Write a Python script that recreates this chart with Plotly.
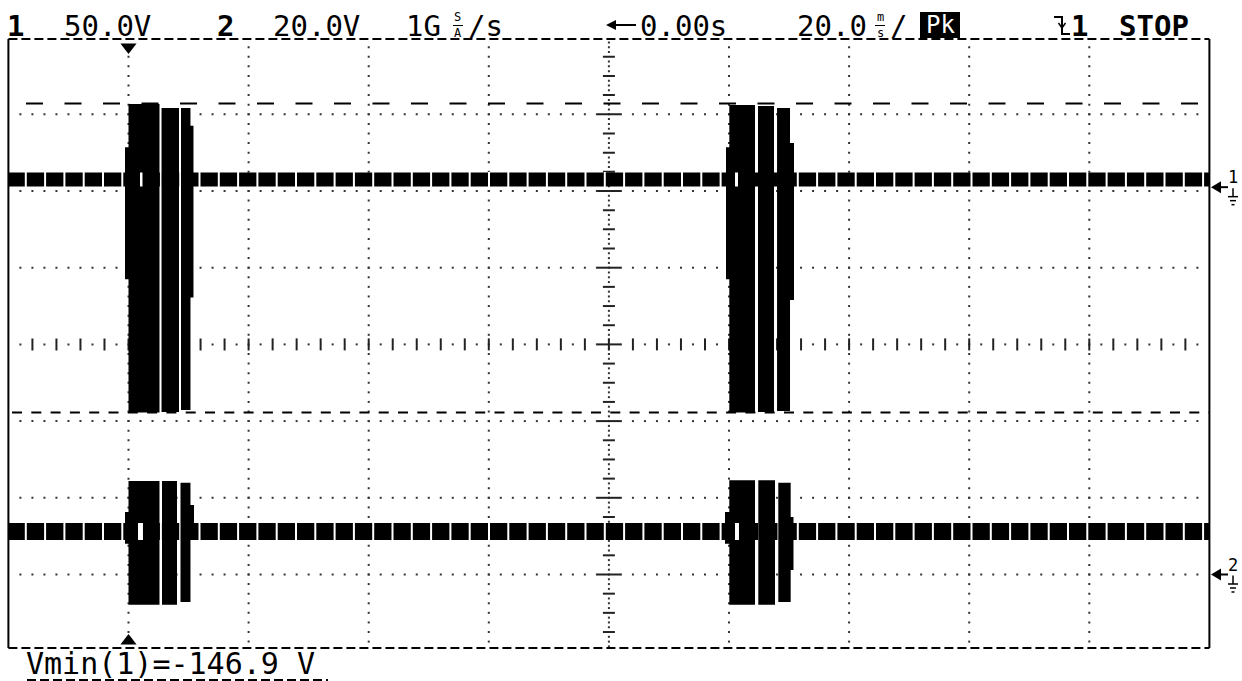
import numpy as np
import plotly.graph_objects as go

W, H = 1242, 681
MONO = "DejaVu Sans Mono"

# ---------------- scope settings ----------------
time_per_div_ms = 20.0      # 20.0 ms/div
time_left_ms = -20.0        # left edge of graticule, trigger at 0 ms
n_xdiv = 10
ch1_volts_per_div = 50.0
ch1_ground_div = 2.05
ch2_volts_per_div = 20.0
ch2_ground_div = -3.0

# idle-level envelope of each channel (V)
ch1_idle_min, ch1_idle_max = 0.5, 9.5
ch2_idle_min, ch2_idle_max = 9.0, 13.4

# burst envelopes: segment start / end (ms), min / max (V)
ch1_seg_start = [-0.58, 0.00, 5.50, 8.74, 10.32, 99.50, 100.05, 104.83, 108.00, 110.16]
ch1_seg_end = [0.00, 5.16, 8.41, 10.32, 10.82, 100.05, 104.33, 107.49, 110.16, 110.83]
ch1_seg_min = [-60.0, -146.9, -146.5, -145.3, -72.0, -60.0, -146.9, -146.5, -145.9, -73.6]
ch1_seg_max = [26.0, 54.2, 51.6, 51.6, 40.0, 26.0, 53.5, 52.9, 51.6, 28.8]

ch2_seg_start = [-0.58, 0.00, 5.58, 8.66, 10.32, 99.33, 100.05, 104.88, 108.21, 110.27]
ch2_seg_end = [0.00, 5.16, 8.08, 10.32, 10.91, 100.05, 104.33, 107.66, 110.27, 110.74]
ch2_seg_min = [8.0, -7.9, -7.9, -7.2, 9.7, 8.0, -7.9, -7.9, -7.2, 1.2]
ch2_seg_max = [16.3, 24.4, 24.4, 23.9, 18.1, 16.3, 24.6, 24.6, 23.9, 15.0]

# thin clear slits inside the bursts at the idle level (ms)
ch1_slit_start = [1.92, 101.0]
ch1_slit_end = [2.33, 101.5]
ch2_slit_start = [1.58, 101.0]
ch2_slit_end = [2.41, 101.66]

# channel-1 measurement cursors (V)
ch1_cursor_top_v = 54.5
ch1_vmin_v = -146.9
trigger_time_ms = 0.0

# ---------------- screen geometry (pixels) ----------------
GX0, GX1 = 8.4, 1209.4
FY0, FY1 = 39.0, 648.0
YC, PPD_Y = 344.4, 76.7
PPD_X = (GX1 - GX0) / n_xdiv
MS_PER_PX = time_per_div_ms / PPD_X

t_min = time_left_ms
t_max = time_left_ms + n_xdiv * time_per_div_ms
y_lo = (YC - FY1) / PPD_Y
y_hi = (YC - FY0) / PPD_Y


def X(px):
    return px / W


def Y(py):
    return 1 - py / H


def t_of_px(px):
    return t_min + (px - GX0) * MS_PER_PX


def py_of_div(d):
    return YC - d * PPD_Y


def ch1(v):
    return v / ch1_volts_per_div + ch1_ground_div


def ch2(v):
    return v / ch2_volts_per_div + ch2_ground_div


def blocks(t0, t1, lo, hi, conv):
    xs, ys = [], []
    for a, b, l, h in zip(t0, t1, lo, hi):
        dl, dh = conv(l), conv(h)
        xs += [a, b, b, a, a, None]
        ys += [dl, dl, dh, dh, dl, None]
    return xs, ys


fig = go.Figure()
DOT = dict(symbol="square", size=2, color="#333", line=dict(width=0))

# ---------------- graticule ----------------
hx, hy = [], []
for d in [-3, -2, -1, 1, 2, 3]:
    for k in range(1, 100):
        hx.append(t_min + k * time_per_div_ms / 10)
        hy.append(d)
vx, vy = [], []
centre_t = t_min + n_xdiv / 2 * time_per_div_ms
for i in range(1, n_xdiv):
    t = t_min + i * time_per_div_ms
    if abs(t - centre_t) < 1e-9:
        continue
    for k in range(1, 64):
        yy = -4 + k * 0.125
        if y_lo < yy < y_hi:
            vx.append(t)
            vy.append(yy)
fig.add_trace(go.Scatter(x=hx + vx, y=hy + vy, mode="markers", marker=DOT,
                         hoverinfo="skip", showlegend=False))

# centre axes: dots and ticks
cx, cy = [], []
for k in range(1, 100, 2):
    cx.append(t_min + k * time_per_div_ms / 10)
    cy.append(0)
for k in range(1, 128):
    yy = -4 + k * 0.0625
    if k % 4 == 0 or not (y_lo < yy < y_hi):
        continue
    cx.append(centre_t)
    cy.append(yy)
fig.add_trace(go.Scatter(x=cx, y=cy, mode="markers", marker=DOT,
                         hoverinfo="skip", showlegend=False))

tx, ty = [], []
vhalf = 6 / PPD_Y
for k in range(1, 50):
    t = t_min + k * time_per_div_ms / 5
    tx += [t, t, None]
    ty += [-vhalf, vhalf, None]
for k in range(1, 32):
    yy = -4 + k * 0.25
    if not (y_lo < yy < y_hi):
        continue
    half = (11.5 if abs(yy - round(yy)) < 1e-9 else 6) * MS_PER_PX
    tx += [centre_t - half, centre_t + half, None]
    ty += [yy, yy, None]
fig.add_trace(go.Scatter(x=tx, y=ty, mode="lines", line=dict(color="#222", width=2),
                         hoverinfo="skip", showlegend=False))

# ---------------- idle bands ----------------
for lo, hi, conv in [(ch1_idle_min, ch1_idle_max, ch1), (ch2_idle_min, ch2_idle_max, ch2)]:
    xs, ys = blocks([t_min - 1], [t_max + 1], [lo], [hi], conv)
    fig.add_trace(go.Scatter(x=xs, y=ys, mode="lines", fill="toself", fillcolor="black",
                             line=dict(width=0, color="black"), hoverinfo="skip", showlegend=False))
    mid = (conv(lo) + conv(hi)) / 2
    band_px = (conv(hi) - conv(lo)) * PPD_Y
    fig.add_trace(go.Scatter(x=[t_of_px(5.5), t_max + 1], y=[mid, mid], mode="lines",
                             line=dict(color="white", width=band_px + 1, dash="2px,17.3px"),
                             hoverinfo="skip", showlegend=False))

# ---------------- cursor lines ----------------
fig.add_trace(go.Scatter(x=[t_of_px(26), t_max + 1], y=[ch1(ch1_cursor_top_v)] * 2, mode="lines",
                         line=dict(color="black", width=2, dash="17px,21.5px"),
                         hoverinfo="skip", showlegend=False))
fig.add_trace(go.Scatter(x=[t_of_px(12), t_max + 1], y=[ch1(ch1_vmin_v)] * 2, mode="lines",
                         line=dict(color="black", width=2, dash="10px,9.3px"),
                         hoverinfo="skip", showlegend=False))

# ---------------- bursts ----------------
for t0, t1, lo, hi, conv in [(ch1_seg_start, ch1_seg_end, ch1_seg_min, ch1_seg_max, ch1),
                             (ch2_seg_start, ch2_seg_end, ch2_seg_min, ch2_seg_max, ch2)]:
    xs, ys = blocks(t0, t1, lo, hi, conv)
    fig.add_trace(go.Scatter(x=xs, y=ys, mode="lines", fill="toself", fillcolor="black",
                             line=dict(width=0, color="black"), hoverinfo="skip", showlegend=False))

for s0, s1, lo, hi, conv in [(ch1_slit_start, ch1_slit_end, ch1_idle_min, ch1_idle_max, ch1),
                             (ch2_slit_start, ch2_slit_end, ch2_idle_min, ch2_idle_max, ch2)]:
    xs, ys = blocks(s0, s1, [lo] * len(s0), [hi] * len(s0), conv)
    fig.add_trace(go.Scatter(x=xs, y=ys, mode="lines", fill="toself", fillcolor="white",
                             line=dict(width=0, color="white"), hoverinfo="skip", showlegend=False))

# trigger position markers at top and bottom edge of the graticule
fig.add_trace(go.Scatter(x=[trigger_time_ms], y=[y_hi - 8 / PPD_Y], mode="markers", cliponaxis=False,
                         marker=dict(symbol="triangle-down", size=14, color="black", line=dict(width=0)),
                         hoverinfo="skip", showlegend=False))
fig.add_trace(go.Scatter(x=[trigger_time_ms], y=[y_lo + 7 / PPD_Y], mode="markers", cliponaxis=False,
                         marker=dict(symbol="triangle-up", size=14, color="black", line=dict(width=0)),
                         hoverinfo="skip", showlegend=False))

# ---------------- frame and decorations ----------------
shapes = []
LW = dict(color="black", width=2)
shapes.append(dict(type="line", xref="paper", yref="paper", x0=X(GX0), x1=X(GX0), y0=Y(FY0), y1=Y(FY1), line=LW))
shapes.append(dict(type="line", xref="paper", yref="paper", x0=X(GX1), x1=X(GX1), y0=Y(FY0), y1=Y(FY1), line=LW))
for fy in (FY0, FY1):
    shapes.append(dict(type="line", xref="paper", yref="paper", x0=X(GX0), x1=X(GX1), y0=Y(fy), y1=Y(fy),
                       line=dict(color="black", width=2, dash="9px,4px")))
# underline of the measurement readout
shapes.append(dict(type="line", xref="paper", yref="paper", x0=X(27), x1=X(328), y0=Y(680), y1=Y(680),
                   line=dict(color="black", width=2, dash="9px,4px")))


def P(points):
    return "M " + " L ".join(f"{X(a):.5f},{Y(b):.5f}" for a, b in points)


# Pk box
shapes.append(dict(type="rect", xref="paper", yref="paper", x0=X(920), x1=X(960), y0=Y(38), y1=Y(12),
                   fillcolor="black", line=dict(width=0)))
# falling-edge trigger symbol
shapes.append(dict(type="path", xref="paper", yref="paper",
                   path=P([(1054, 17), (1062, 17), (1062, 34), (1070, 34)]), line=LW))
shapes.append(dict(type="path", xref="paper", yref="paper",
                   path=P([(1058.5, 23), (1062, 28), (1065.5, 23)]), line=dict(color="black", width=1.5)))
# delay arrow in front of 0.00s
shapes.append(dict(type="line", xref="paper", yref="paper", x0=X(613), x1=X(636), y0=Y(25), y1=Y(25),
                   line=dict(color="black", width=2)))
shapes.append(dict(type="path", xref="paper", yref="paper",
                   path=P([(606, 25), (616, 20), (616, 30)]) + " Z", fillcolor="black", line=dict(width=0)))
# bars of the stacked units
for bx in (458, 880):
    shapes.append(dict(type="line", xref="paper", yref="paper", x0=X(bx - 5), x1=X(bx + 5),
                       y0=Y(25.5), y1=Y(25.5), line=dict(color="black", width=1)))

annotations = []
# ground markers on the right
for label, gdiv in (("1", ch1_ground_div), ("2", ch2_ground_div)):
    py0 = py_of_div(gdiv)
    shapes.append(dict(type="path", xref="paper", yref="paper",
                       path=P([(1211, py0), (1221, py0 - 6), (1221, py0 + 6)]) + " Z",
                       fillcolor="black", line=dict(width=0)))
    shapes.append(dict(type="line", xref="paper", yref="paper", x0=X(1219), x1=X(1228),
                       y0=Y(py0), y1=Y(py0), line=LW))
    gx = 1233
    shapes.append(dict(type="line", xref="paper", yref="paper", x0=X(gx), x1=X(gx),
                       y0=Y(py0 + 1), y1=Y(py0 + 9.5), line=dict(color="black", width=1.5)))
    for off, half in ((9.5, 5), (13.5, 3), (17.5, 1.5)):
        shapes.append(dict(type="line", xref="paper", yref="paper", x0=X(gx - half), x1=X(gx + half),
                           y0=Y(py0 + off), y1=Y(py0 + off), line=dict(color="black", width=1.5)))
    annotations.append(dict(text=label, x=X(gx), y=Y(py0 - 10), xref="paper", yref="paper",
                            xanchor="center", yanchor="middle", showarrow=False, borderpad=0,
                            font=dict(family=MONO, size=17, color="black")))


def ann(txt, px, py, size=29, bold=False, color="black", anchor="left"):
    annotations.append(dict(text=f"<b>{txt}</b>" if bold else txt, x=X(px), y=Y(py),
                            xref="paper", yref="paper", xanchor=anchor, yanchor="middle",
                            showarrow=False, borderpad=0,
                            font=dict(family=MONO, size=size, color=color)))


HY = 26
ann("1", 6, HY, bold=True)
ann(f"{ch1_volts_per_div:.1f}V", 63, HY)
ann("2", 216, HY, bold=True)
ann(f"{ch2_volts_per_div:.1f}V", 272, HY)
ann("1G", 405, HY)
ann("S<br>A", 458, 25.5, size=12, anchor="center")
ann("/s", 467, HY)
ann("0.00s", 639, HY)
ann(f"{time_per_div_ms:.1f}", 796, HY)
ann("m<br>s", 880, 25.5, size=12, anchor="center")
ann("/", 889, HY)
ann("Pk", 940, 25, size=24, color="white", anchor="center")
ann("1", 1070, HY, bold=True)
ann("STOP", 1118, HY, bold=True)
ann(f"Vmin(1)={ch1_vmin_v:.1f} V", 25, 663, size=30)

fig.update_layout(
    width=W, height=H, autosize=False,
    margin=dict(l=0, r=0, t=0, b=0),
    paper_bgcolor="white", plot_bgcolor="white",
    showlegend=False, hovermode=False,
    xaxis=dict(range=[t_min, t_max], domain=[X(GX0), X(GX1)], showgrid=False, zeroline=False,
               showticklabels=False, ticks="", showline=False, fixedrange=True),
    yaxis=dict(range=[y_lo, y_hi], domain=[Y(FY1), Y(FY0)], showgrid=False, zeroline=False,
               showticklabels=False, ticks="", showline=False, fixedrange=True),
    shapes=shapes, annotations=annotations,
)

fig.write_html("out.html", config={"displayModeBar": False},
               post_script="document.body.style.margin='0px';document.body.style.overflow='hidden';")
